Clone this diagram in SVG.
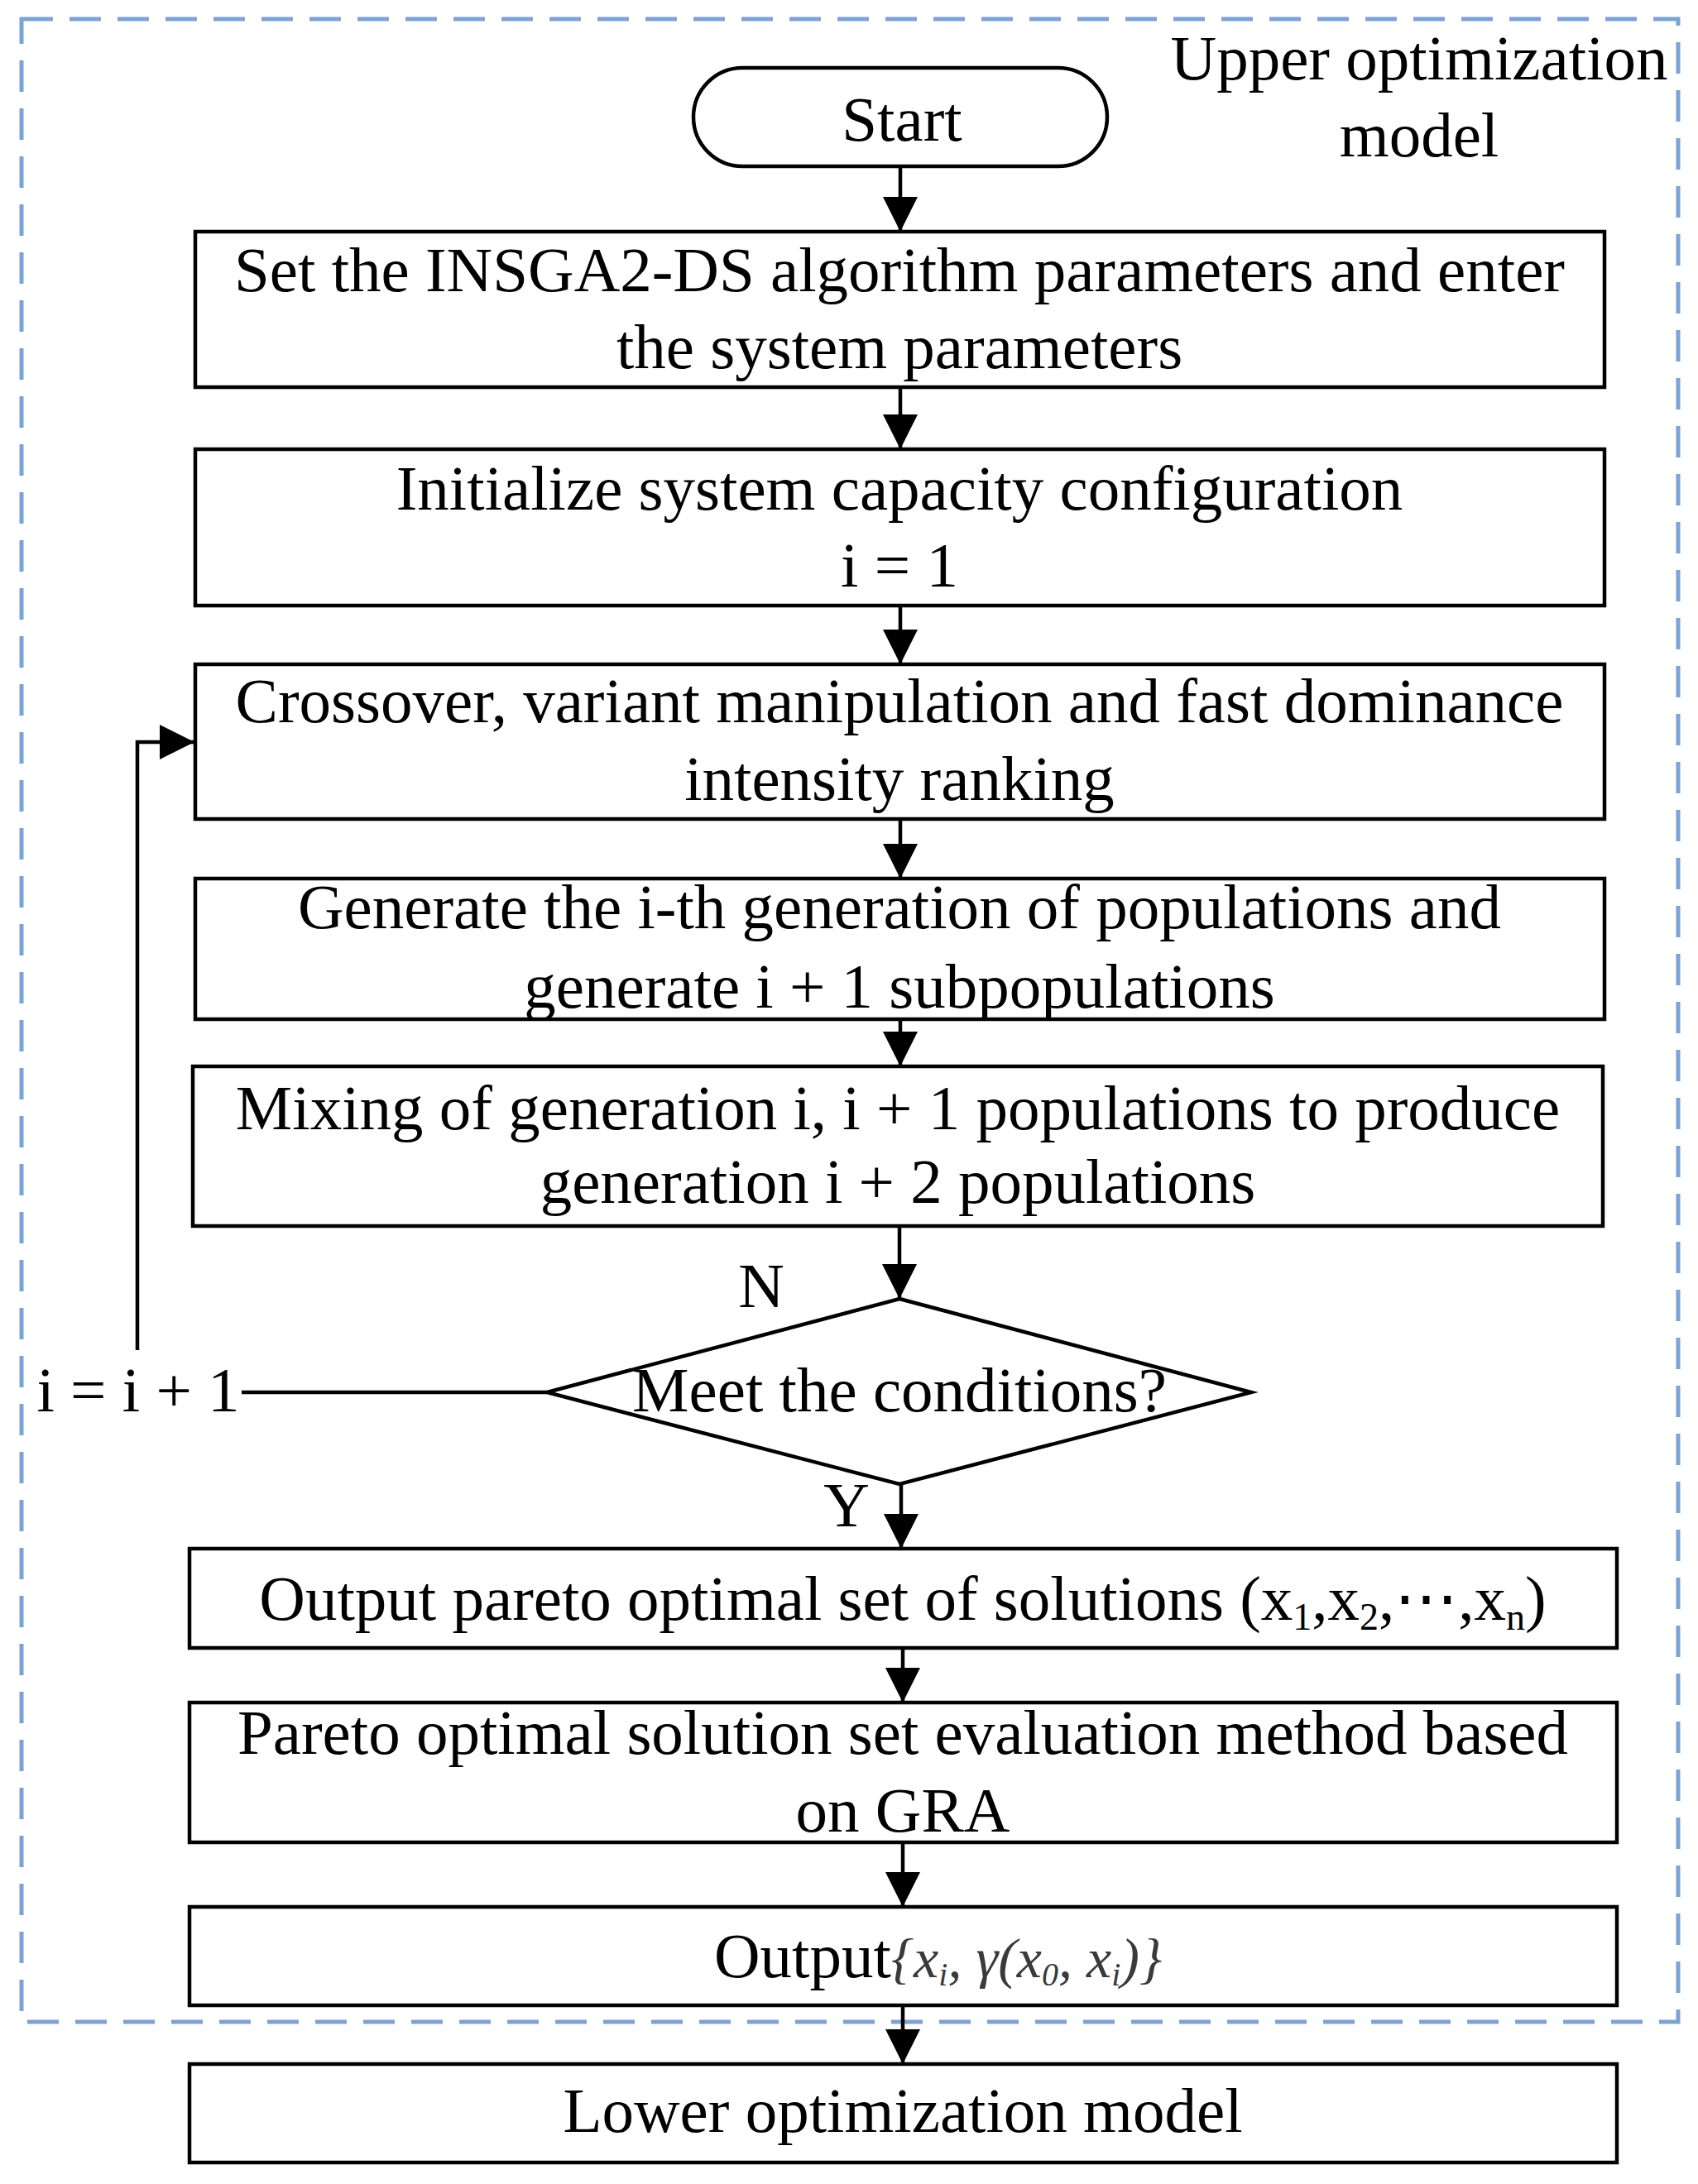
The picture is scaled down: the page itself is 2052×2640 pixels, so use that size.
<svg xmlns="http://www.w3.org/2000/svg" width="2052" height="2640" viewBox="0 0 2052 2640">
<style>
.bg{fill:#ffffff}
.box{fill:#ffffff;stroke:#000000;stroke-width:4.5}
.t{font-family:"Liberation Serif","Times New Roman",serif;font-size:77px;fill:#000000;text-anchor:middle}
.ts{font-family:"Liberation Serif","Times New Roman",serif;font-size:77px;fill:#000000}
.math{font-family:"Liberation Serif","Times New Roman",serif;font-style:italic;font-size:68px;fill:#3a3a3a}
.sub{font-size:46px}
.msub{font-size:40px}
.conn{fill:none;stroke:#000000;stroke-width:4.5}
.dash{fill:none;stroke:#7ba3d4;stroke-width:5;stroke-dasharray:38 20}
</style>
<defs>
<marker id="ah" markerUnits="userSpaceOnUse" markerWidth="42" markerHeight="42" refX="42" refY="21" orient="auto" viewBox="0 0 42 42">
<path d="M0,0 L42,21 L0,42 Z" fill="#000000"/>
</marker>
</defs>
<rect class="bg" x="0" y="0" width="2052" height="2640"/>

<g id="upper-model-frame">
<rect class="dash" x="26" y="23" width="2002" height="2421"/>
<text class="t" x="1715" y="96">Upper optimization</text>
<text class="t" x="1715" y="189">model</text>
</g>

<g id="connectors">
<path class="conn" d="M1088,202 L1088,280" marker-end="url(#ah)"/>
<path class="conn" d="M1088,468 L1088,543" marker-end="url(#ah)"/>
<path class="conn" d="M1088,732 L1088,803" marker-end="url(#ah)"/>
<path class="conn" d="M1088,990 L1088,1062" marker-end="url(#ah)"/>
<path class="conn" d="M1088,1232 L1088,1289" marker-end="url(#ah)"/>
<path class="conn" d="M1087,1482 L1087,1570" marker-end="url(#ah)"/>
<path class="conn" d="M1089,1794 L1089,1872" marker-end="url(#ah)"/>
<path class="conn" d="M1091,1992 L1091,2058" marker-end="url(#ah)"/>
<path class="conn" d="M1091,2227 L1091,2305" marker-end="url(#ah)"/>
<path class="conn" d="M1091,2424 L1091,2495" marker-end="url(#ah)"/>
<path class="conn" d="M661,1683 L292,1683"/>
<path class="conn" d="M166,1632 L166,897 L235,897" marker-end="url(#ah)"/>
<text class="t" x="920" y="1580">N</text>
<text class="t" x="1023" y="1845">Y</text>
<text class="t" x="167" y="1706">i = i + 1</text>
</g>

<g id="start">
<rect class="box" x="838" y="82" width="500" height="119" rx="59.5" ry="59.5"/>
<text class="t" x="1090" y="170">Start</text>
</g>

<g id="set-params">
<rect class="box" x="236" y="280" width="1703" height="188"/>
<text class="t" x="1087" y="352">Set the INSGA2-DS algorithm parameters and enter</text>
<text class="t" x="1087" y="445">the system parameters</text>
</g>

<g id="initialize">
<rect class="box" x="236" y="543" width="1703" height="189"/>
<text class="t" x="1087" y="616">Initialize system capacity configuration</text>
<text class="t" x="1087" y="709">i = 1</text>
</g>

<g id="crossover">
<rect class="box" x="236" y="803" width="1703" height="187"/>
<text class="t" x="1087" y="873">Crossover, variant manipulation and fast dominance</text>
<text class="t" x="1087" y="967">intensity ranking</text>
</g>

<g id="generate">
<rect class="box" x="236" y="1062" width="1703" height="170"/>
<text class="t" x="1087" y="1122">Generate the i-th generation of populations and</text>
<text class="t" x="1087" y="1218">generate i + 1 subpopulations</text>
</g>

<g id="mixing">
<rect class="box" x="233" y="1289" width="1704" height="193"/>
<text class="t" x="1085" y="1365">Mixing of generation i, i + 1 populations to produce</text>
<text class="t" x="1085" y="1454">generation i + 2 populations</text>
</g>

<g id="decision">
<polygon class="box" points="1087,1570 1512,1683 1087,1794 661,1683"/>
<text class="t" x="1087" y="1706">Meet the conditions?</text>
</g>

<g id="output-pareto">
<rect class="box" x="229" y="1872" width="1725" height="120"/>
<text class="t" x="1091" y="1958">Output pareto optimal set of solutions (x<tspan class="sub" dy="12">1</tspan><tspan dy="-12">,x</tspan><tspan class="sub" dy="12">2</tspan><tspan dy="-12">,⋯,x</tspan><tspan class="sub" dy="12">n</tspan><tspan dy="-12">)</tspan></text>
</g>

<g id="gra-eval">
<rect class="box" x="229" y="2058" width="1725" height="169"/>
<text class="t" x="1091" y="2120">Pareto optimal solution set evaluation method based</text>
<text class="t" x="1091" y="2214">on GRA</text>
</g>

<g id="output-gamma">
<rect class="box" x="229" y="2305" width="1725" height="119"/>
<text class="ts" x="863" y="2390">Output<tspan class="math">{x</tspan><tspan class="math msub" dy="10">i</tspan><tspan class="math" dy="-10">, γ(x</tspan><tspan class="math msub" dy="10">0</tspan><tspan class="math" dy="-10">, x</tspan><tspan class="math msub" dy="10">i</tspan><tspan class="math" dy="-10">)}</tspan></text>
</g>

<g id="lower-model">
<rect class="box" x="229" y="2495" width="1725" height="119"/>
<text class="t" x="1091" y="2577">Lower optimization model</text>
</g>
</svg>
